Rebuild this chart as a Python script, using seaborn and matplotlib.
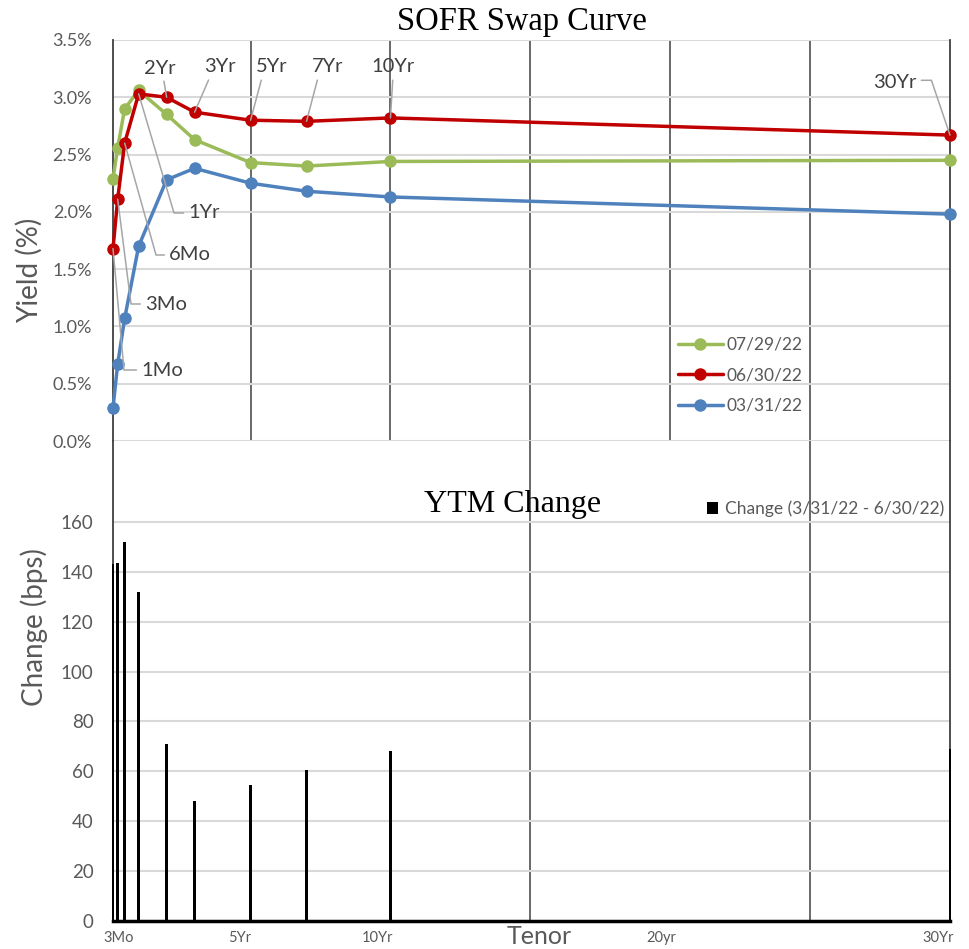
import matplotlib
matplotlib.use("Agg")
import math
import matplotlib.pyplot as plt
import matplotlib.transforms as mtransforms
from matplotlib.ticker import FuncFormatter
import seaborn as sns
import pandas as pd
import numpy as np

# ---------------- data ----------------
tenor_labels = ["1Mo", "3Mo", "6Mo", "1Yr", "2Yr", "3Yr", "5Yr", "7Yr", "10Yr", "30Yr"]
tenor_years = [1/12, 0.25, 0.5, 1, 2, 3, 5, 7, 10, 30]
dates = ["07/29/22", "06/30/22", "03/31/22"]
yld_0729 = [2.29, 2.56, 2.90, 3.06, 2.85, 2.63, 2.43, 2.40, 2.44, 2.45]
yld_0630 = [1.68, 2.11, 2.60, 3.03, 3.00, 2.87, 2.80, 2.79, 2.82, 2.67]
yld_0331 = [0.29, 0.67, 1.07, 1.70, 2.28, 2.38, 2.25, 2.18, 2.13, 1.98]
change_bps = [143, 143.5, 152, 132, 71, 48, 54.5, 60.5, 68, 69]
change_label = "Change (3/31/22 - 6/30/22)"
xtick_vals = [0.25, 5, 10, 20, 30]
xtick_text = ["3Mo", "5Yr", "10Yr", "20yr", "30Yr"]

df = pd.DataFrame({
    "tenor": tenor_years * 3,
    "yield": yld_0729 + yld_0630 + yld_0331,
    "date": [dates[0]] * 10 + [dates[1]] * 10 + [dates[2]] * 10,
})
dfc = pd.DataFrame({"tenor": tenor_years, "change": change_bps})

# ---------------- style ----------------
sns.set_theme(style="white")
plt.rcParams["font.family"] = ["Lato", "DejaVu Sans"]
GRAY_TXT = "#595959"
DARK = "#404040"
palette = {dates[0]: "#9BBB59", dates[1]: "#C00000", dates[2]: "#4F81BD"}

W, H = 970, 949
fig = plt.figure(figsize=(W / 100, H / 100), dpi=100)

def fx(px):
    return px / W

def fy(py):
    return 1 - py / H

x_left, x_right = 113, 950
y_top1, y_mid, y_bot = 40, 441, 921
ax1 = fig.add_axes([fx(x_left), fy(y_mid), fx(x_right) - fx(x_left), fy(y_top1) - fy(y_mid)])
ax2 = fig.add_axes([fx(x_left), fy(y_bot), fx(x_right) - fx(x_left), fy(y_mid) - fy(y_bot)])

xlim = (1/12, 30)
ylim1 = (0, 3.5)
bps_per_px = 1 / 2.494
ylim2 = (0, (y_bot - y_mid) * bps_per_px)

def data2px(xd, yd):
    px = x_left + (xd - xlim[0]) / (xlim[1] - xlim[0]) * (x_right - x_left)
    py = y_mid - (yd - ylim1[0]) / (ylim1[1] - ylim1[0]) * (y_mid - y_top1)
    return px, py

def px2data(px, py):
    xd = xlim[0] + (px - x_left) / (x_right - x_left) * (xlim[1] - xlim[0])
    yd = ylim1[0] + (y_mid - py) / (y_mid - y_top1) * (ylim1[1] - ylim1[0])
    return xd, yd

# ---------------- top: yield curves ----------------
sns.lineplot(data=df, x="tenor", y="yield", hue="date", hue_order=dates,
             palette=palette, marker="o", markersize=9, markeredgewidth=0,
             linewidth=2.5, ax=ax1, zorder=4, clip_on=False)
ax1.set_xlim(*xlim)
ax1.set_ylim(*ylim1)
ax1.set_yticks(np.arange(0, 3.51, 0.5))
ax1.yaxis.set_major_formatter(FuncFormatter(lambda v, p: f"{v:.1f}%"))
ax1.tick_params(axis="y", labelsize=13, labelcolor=GRAY_TXT, length=0, pad=15)
ax1.set_xticks([])
ax1.set_xticks([5, 10, 15, 20, 25], minor=True)
ax1.tick_params(axis="x", which="both", length=0, labelbottom=False)
ax1.grid(axis="y", which="major", color="#D9D9D9", lw=1.5, zorder=0)
ax1.grid(axis="x", which="minor", color=DARK, lw=1.1, zorder=1)
ax1.set_axisbelow(True)
for s in ["top", "bottom"]:
    ax1.spines[s].set_visible(False)
for s in ["left", "right"]:
    ax1.spines[s].set_color(DARK)
    ax1.spines[s].set_linewidth(1.3)
ax1.set_xlabel("")
ax1.set_ylabel("Yield (%)", fontsize=20, color=GRAY_TXT)
ax1.yaxis.set_label_coords((43 - x_left) / (x_right - x_left), (y_mid - 270) / (y_mid - y_top1))

leg = ax1.legend(loc="upper left", bbox_to_anchor=(fx(662), fy(321)),
                 bbox_transform=fig.transFigure, frameon=False, fontsize=12.5,
                 handlelength=2.6, labelspacing=0.84, handletextpad=0.2)
for t in leg.get_texts():
    t.set_color(GRAY_TXT)

# data labels with leader lines (on the 06/30/22 series)
# (text centre px, text centre py, stub corner px or None)
label_pos = {
    "1Mo": (162, 370, 124), "3Mo": (166, 304, 131), "6Mo": (190, 255, 156),
    "1Yr": (204, 213, 174), "2Yr": (160, 68, None), "3Yr": (220, 67, None),
    "5Yr": (272, 67, None), "7Yr": (328, 67, None), "10Yr": (393, 67, None),
    "30Yr": (895, 82, 932),
}
relpos = {"1Mo": (0, 0.5), "3Mo": (0, 0.5), "6Mo": (0, 0.5), "1Yr": (0, 0.5),
          "2Yr": (0.6, 0), "3Yr": (0.2, 0), "5Yr": (0.2, 0), "7Yr": (0.2, 0),
          "10Yr": (0.5, 0), "30Yr": (1, 0.6)}

for lab, tx, yv in zip(tenor_labels, tenor_years, yld_0630):
    cxp, cyp, corner = label_pos[lab]
    xt, yt = px2data(cxp, cyp)
    ap = dict(arrowstyle="-", color="#A6A6A6", lw=1.1, shrinkA=1, shrinkB=0,
              relpos=relpos[lab])
    if corner is not None:
        ppx, ppy = data2px(tx, yv)
        ang = math.degrees(math.atan2(-(cyp - ppy), corner - ppx))
        ap["connectionstyle"] = f"angle,angleA=0,angleB={ang:.2f},rad=0"
    ax1.annotate(lab, xy=(tx, yv), xytext=(xt, yt), textcoords="data",
                 ha="center", va="center", fontsize=14.5, color=DARK, zorder=6,
                 arrowprops=ap, annotation_clip=False)

# ---------------- bottom: change bars ----------------
sns.barplot(data=dfc, x="tenor", y="change", native_scale=True, width=0.55,
            color="black", errorbar=None, ax=ax2, label=change_label, zorder=3,
            linewidth=0)
for p in ax2.patches:
    p.set_clip_on(False)
ax2.set_xlim(*xlim)
ax2.set_ylim(*ylim2)
ax2.set_yticks(np.arange(0, 161, 20))
ax2.tick_params(axis="y", labelsize=13.5, labelcolor=GRAY_TXT, length=0, pad=14)
ax2.set_xticks(xtick_vals)
ax2.set_xticklabels(xtick_text)
ax2.set_xticks([5, 10, 15, 20, 25], minor=True)
ax2.tick_params(axis="x", which="both", length=0, labelsize=10.5, labelcolor=GRAY_TXT, pad=7)
label_dx_px = [1, -11, -13, -9, -12]
for t, dx in zip(ax2.get_xticklabels(), label_dx_px):
    t.set_transform(t.get_transform() + mtransforms.ScaledTranslation(dx / 100, 0, fig.dpi_scale_trans))
ax2.grid(axis="y", which="major", color="#D9D9D9", lw=1.5, zorder=0)
ax2.grid(axis="x", which="major", visible=False)
ax2.grid(axis="x", which="minor", color=DARK, lw=1.1, zorder=1)
ax2.set_axisbelow(True)
ax2.spines["top"].set_visible(False)
for s in ["left", "right"]:
    ax2.spines[s].set_color(DARK)
    ax2.spines[s].set_linewidth(1.3)
ax2.spines["bottom"].set_color("black")
ax2.spines["bottom"].set_linewidth(2.5)
ax2.set_ylabel("Change (bps)", fontsize=20, color=GRAY_TXT)
ax2.yaxis.set_label_coords((48 - x_left) / (x_right - x_left), (y_bot - 627) / (y_bot - y_mid))
ax2.set_xlabel("Tenor", fontsize=18, color=GRAY_TXT)
ax2.xaxis.set_label_coords((539 - x_left) / (x_right - x_left), -0.008)

leg2 = ax2.legend(loc="center right", bbox_to_anchor=(fx(960), fy(509)),
                  bbox_transform=fig.transFigure, frameon=False, fontsize=12.5,
                  handlelength=0.65, handleheight=0.65, handletextpad=0.4)
for t in leg2.get_texts():
    t.set_color(GRAY_TXT)

# titles
fig.text(fx(522), fy(30), "SOFR Swap Curve", ha="center", va="baseline",
         fontsize=23.5, family="Liberation Serif", color="black")
fig.text(fx(513), fy(512), "YTM Change", ha="center", va="baseline",
         fontsize=23, family="Liberation Serif", color="black")

fig.savefig("out.png", dpi=100)
